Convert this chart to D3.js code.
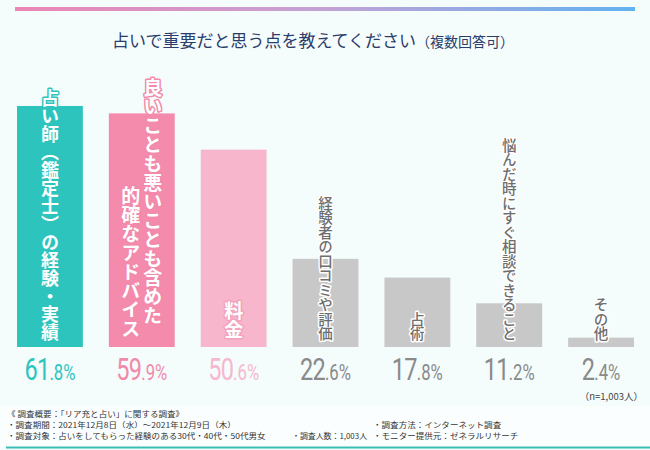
<!DOCTYPE html>
<html>
<head>
<meta charset="utf-8">
<script src="https://cdn.jsdelivr.net/npm/d3@7"></script>
<style>
  body { margin: 0; background: #f4fcfc; }
  svg { display: block; }
</style>
</head>
<body>
<div id="chart"></div>
<script>
// chart data
const title = "占いで重要だと思う点を教えてください";
const titleNote = "（複数回答可）";
const categories = [
    "占い師（鑑定士）の経験・実績",
    "良いことも悪いことも含めた\n的確なアドバイス",
    "料金",
    "経験者の口コミや評価",
    "占術",
    "悩んだ時にすぐ相談できること",
    "その他"
];
const values = [61.8, 59.9, 50.6, 22.6, 17.8, 11.2, 2.4];
const sampleNote = "（n=1,003人）";
const footerLeft = [
    "《 調査概要：「リア充と占い」に関する調査》",
    "・調査期間：2021年12月8日（水）～2021年12月9日（木）",
    "・調査対象：占いをしてもらった経験のある30代・40代・50代男女"
];
const footerMid = ["", "", "・調査人数：1,003人"];
const footerRight = ["", "・調査方法：インターネット調査", "・モニター提供元：ゼネラルリサーチ"];

// styles per bar
const barColors = ["#2ec4be", "#f48bad", "#f7b6cb", "#c8c8c8", "#c8c8c8", "#c8c8c8", "#c8c8c8"];
const valueColors = ["#2ec4be", "#f08aab", "#f6b8cc", "#8a8a8a", "#8a8a8a", "#8a8a8a", "#8a8a8a"];
const strokeColors = ["#2ec4be", "#f28aac", "#f3a3bd", "#fff", "#fff", "#fff", "#fff"];

const width = 650, height = 450;
const baseY = 347;

const svg = d3.select("#chart")
    .append("svg")
    .attr("width", width)
    .attr("height", height);

// background + footer band
svg.append("rect").attr("width", width).attr("height", height).attr("fill", "#f4fcfc");
svg.append("rect").attr("x", 0).attr("y", 406).attr("width", width).attr("height", 41).attr("fill", "#fbfefe");

// top gradient rule
const grad = svg.append("defs").append("linearGradient").attr("id", "topline");
grad.append("stop").attr("offset", "0%").attr("stop-color", "#ec86b5");
grad.append("stop").attr("offset", "50%").attr("stop-color", "#c3a2d6");
grad.append("stop").attr("offset", "100%").attr("stop-color", "#62b2f0");
svg.append("rect")
    .attr("x", 15).attr("y", 7).attr("width", 620).attr("height", 4)
    .attr("fill", "url(#topline)");

// bottom rule
svg.append("rect")
    .attr("x", 6).attr("y", 446.5).attr("width", 644).attr("height", 2)
    .attr("fill", "#3cbdb6");

// title
const t = svg.append("text")
    .attr("x", 313).attr("y", 47)
    .attr("text-anchor", "middle")
    .style("font-family", "'Noto Sans CJK JP', sans-serif")
    .attr("fill", "#2b3d6b");
t.append("tspan").style("font-size", "17px").text(title);
t.append("tspan").style("font-size", "14px").text(titleNote);

const x = d3.scaleBand()
    .domain(categories)
    .range([17, 634])
    .paddingInner(0.283)
    .paddingOuter(0);

const y = d3.scaleLinear()
    .domain([0, 70])
    .range([baseY, baseY - 70 * 3.9]);

const data = categories.map((c, i) => ({ cat: c, value: values[i], i: i }));

// bars
svg.append("g")
    .selectAll("rect")
    .data(data)
    .enter()
    .append("rect")
    .attr("x", d => x(d.cat))
    .attr("y", d => y(d.value))
    .attr("width", x.bandwidth())
    .attr("height", d => y(0) - y(d.value))
    .attr("fill", d => barColors[d.i]);

// vertical labels
const labelBottom = [341, 341, 339, 341, 341, 341, 341];
data.forEach(d => {
    const cols = d.cat.split("\n");
    const colored = d.i < 3;
    const fs = d.i == 0 ? 18 : (colored ? 19 : 14.5);
    const cx = x(d.cat) + x.bandwidth() / 2;
    cols.forEach((col, k) => {
        // first column sits to the right (vertical-rl order)
        const off = cols.length > 1 ? (k == 0 ? 11 : -11) : 0;
        const bottom = cols.length > 1 && k == 0 ? 325 : (cols.length > 1 ? 338 : labelBottom[d.i]);
        svg.append("text")
            .attr("x", cx + off)
            .attr("y", bottom)
            .attr("text-anchor", "end")
            .style("writing-mode", "vertical-rl")
            .style("font-family", "'Noto Sans CJK JP', sans-serif")
            .style("font-size", fs + "px")
            .style("font-weight", colored ? 700 : 500)
            .style("paint-order", "stroke")
            .attr("stroke", strokeColors[d.i])
            .attr("stroke-width", 3)
            .attr("stroke-linejoin", "round")
            .attr("fill", colored ? "#fff" : "#6e6e6e")
            .text(col);
    });
});

// value labels (condensed look via horizontal scale)
const vl = svg.append("g")
    .selectAll("text")
    .data(data)
    .enter()
    .append("text")
    .attr("transform", d => "translate(" + (x(d.cat) + x.bandwidth() / 2) + ",380) scale(0.76,1)")
    .attr("text-anchor", "middle")
    .style("font-family", "Roboto, sans-serif")
    .attr("fill", d => valueColors[d.i]);

vl.append("tspan")
    .style("font-size", "31px")
    .style("letter-spacing", "-1px")
    .text(d => d3.format(".1f")(d.value).split(".")[0]);
vl.append("tspan")
    .style("font-size", "22px")
    .text(d => "." + d3.format(".1f")(d.value).split(".")[1] + "%");

// sample size
svg.append("text")
    .attr("x", 643).attr("y", 400)
    .attr("text-anchor", "end")
    .style("font-family", "'Noto Sans CJK JP', sans-serif")
    .style("font-size", "9.5px")
    .attr("fill", "#444")
    .text(sampleNote);

// footer (slightly squeezed to mimic the condensed source font)
const footerY = [417, 428, 439];
function footerCol(lines, xPos, sx) {
    svg.append("g")
        .selectAll("text")
        .data(lines)
        .enter()
        .append("text")
        .attr("transform", (d, i) => "translate(" + xPos + "," + footerY[i] + ") scale(" + sx + ",0.85)")
        .style("font-family", "'Noto Sans CJK JP', sans-serif")
        .style("font-size", "9px")
        .attr("fill", "#333")
        .text(d => d);
}
footerCol(footerLeft, 7, 0.95);
footerCol(footerMid, 292, 0.88);
footerCol(footerRight, 373, 0.95);
</script>
</body>
</html>
